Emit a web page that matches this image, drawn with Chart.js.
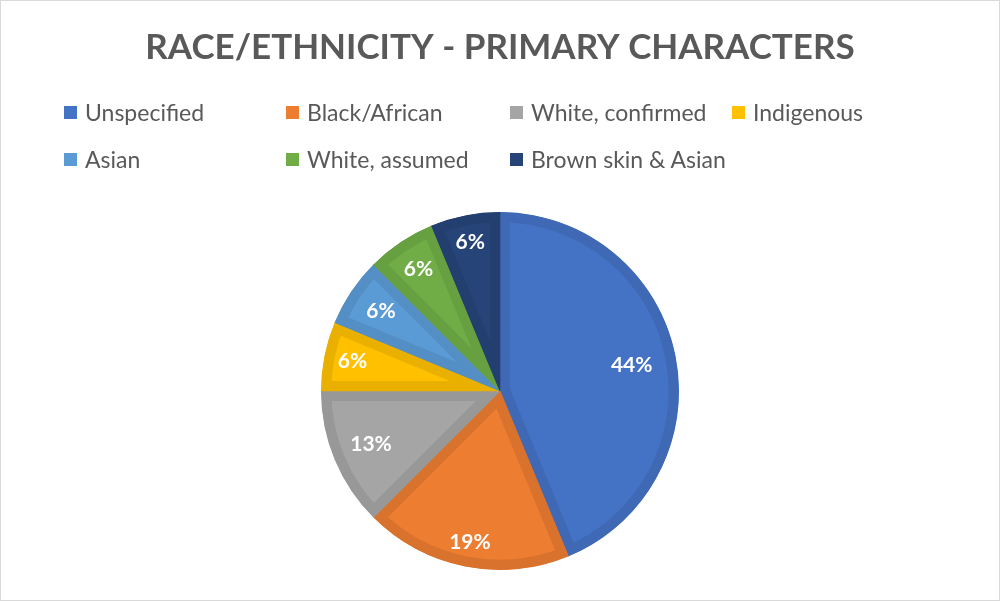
<!DOCTYPE html>
<html>
<head>
<meta charset="utf-8">
<script src="https://cdn.jsdelivr.net/npm/chart.js"></script>
<style>
  html, body { margin: 0; padding: 0; background: #fff; }
  #frame {
    position: relative; width: 1000px; height: 601px;
    box-sizing: border-box; border: 1px solid #d9d9d9; overflow: hidden;
  }
  #pie { position: absolute; left: 0; top: 0; }
  #legend { position: absolute; left: 0; top: 0; width: 100%; }
  .item {
    position: absolute; display: flex; align-items: center;
    font-family: Lato, "Open Sans", sans-serif; font-size: 23px; color: #595959;
    white-space: nowrap;
  }
  .item span.box { width: 13px; height: 13px; margin-right: 8px; display: inline-block; }
</style>
</head>
<body>
<div id="frame">
  <canvas id="pie" width="998" height="599"></canvas>
  <div id="legend"></div>
</div>
<script>
// data
const categories = ['Unspecified', 'Black/African', 'White, confirmed', 'Indigenous', 'Asian', 'White, assumed', 'Brown skin & Asian'];
const counts = [7, 3, 2, 1, 1, 1, 1];
const fillColors = ['#4472c4', '#ed7d31', '#a5a5a5', '#ffc000', '#5b9bd5', '#70ad47', '#264478'];
const edgeColors = ['#3f69b5', '#d9722d', '#989898', '#e9b000', '#538ec4', '#67a041', '#233f6f'];

// legend (html, laid out like the excel grid)
const legendSpots = [[63, 112], [285, 112], [509, 112], [731, 112], [63, 159], [285, 159], [509, 159]];
const legendEl = document.getElementById('legend');
categories.forEach((c, i) => {
    const d = document.createElement('div');
    d.className = 'item';
    d.style.left = legendSpots[i][0] + 'px';
    d.style.top = (legendSpots[i][1] - 15) + 'px';
    d.innerHTML = `<span class="box" style="background:${fillColors[i]}"></span>${c}`;
    legendEl.appendChild(d);
});

// percentage labels inside the slices (excel "best fit" puts them at slightly different depths)
const labelDepth = [0.75, 0.86, 0.78, 0.84, 0.8, 0.82, 0.85];
const sliceLabels = {
    id: 'sliceLabels',
    afterDatasetsDraw(chart) {
        const ctx = chart.ctx;
        const meta = chart.getDatasetMeta(0);
        const total = counts.reduce((a, b) => a + b, 0);
        ctx.save();
        ctx.font = 'bold 21px Lato, "Open Sans", sans-serif';
        ctx.fillStyle = '#ffffff';
        ctx.textAlign = 'center';
        ctx.textBaseline = 'middle';
        meta.data.forEach((arc, i) => {
            const mid = (arc.startAngle + arc.endAngle) / 2;
            const r = arc.outerRadius * labelDepth[i];
            const pct = Math.round(counts[i] / total * 100) + '%';
            ctx.fillText(pct, arc.x + Math.cos(mid) * r, arc.y + Math.sin(mid) * r);
        });
        ctx.restore();
    }
};

new Chart(document.getElementById('pie'), {
    type: 'pie',
    data: {
        labels: categories,
        datasets: [{
            data: counts,
            backgroundColor: fillColors,
            borderColor: edgeColors,
            borderWidth: 10,
            borderAlign: 'inner',
            hoverOffset: 0
        }]
    },
    options: {
        responsive: false,
        animation: false,
        layout: { padding: { top: 0, bottom: 30 } },
        plugins: {
            legend: { display: false },
            tooltip: { enabled: false },
            title: {
                display: true,
                text: 'RACE/ETHNICITY - PRIMARY CHARACTERS',
                color: '#595959',
                font: { family: 'Lato, "Open Sans", sans-serif', size: 35, weight: 'bold' },
                padding: { top: 26, bottom: 143 }
            }
        }
    },
    plugins: [sliceLabels]
});
</script>
</body>
</html>
